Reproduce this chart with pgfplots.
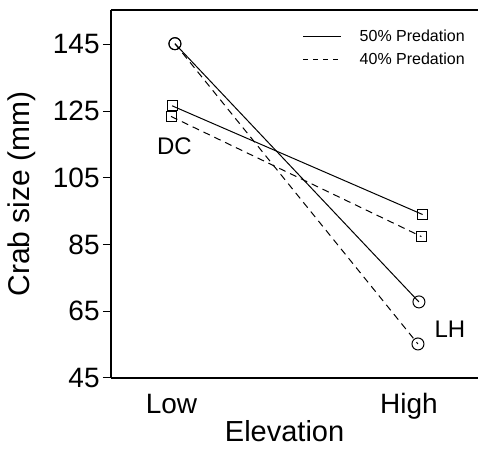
\documentclass[border=0pt]{standalone}
\usepackage{fontspec}
\setmainfont{Liberation Sans}
\usepackage{pgfplots}
\pgfplotsset{compat=1.18}

\begin{document}
\begin{tikzpicture}
\begin{axis}[
  scale only axis,
  width=183.5pt,
  height=184pt,
  xmin=-0.262, xmax=1.242,
  ymin=45, ymax=155.3,
  axis x line*=box,
  axis y line*=left,
  axis line style={black, line width=0.6pt},
  xtick={-0.014,0.959},
  xticklabels={Low,High},
  xtick style={draw=none},
  ytick={45,65,85,105,125,145},
  tick align=outside,
  major tick length=4pt,
  ytick style={black, line width=0.5pt},
  /pgf/number format/assume math mode=true,
  yticklabel style={font=\fontsize{14}{16}\selectfont, anchor=east, inner sep=0pt, xshift=-1.5pt},
  xticklabel style={font=\fontsize{14}{16}\selectfont, anchor=base, inner sep=0pt, yshift=-14pt},
  xlabel={Elevation},
  xlabel style={font=\fontsize{14.5}{16}\selectfont, at={(axis description cs:0.473,0)}, anchor=base, inner sep=0pt, yshift=-32pt},
  ylabel={Crab size (mm)},
  ylabel style={font=\fontsize{15}{17}\selectfont, at={(axis description cs:-0.2425,0.5)}, anchor=center, inner sep=0pt},
  legend style={at={(axis description cs:0.505,0.96)}, anchor=north west, draw=none, fill=none,
    font=\fontsize{8}{9}\selectfont, row sep=4pt,
    nodes={inner sep=0pt, text height=6pt, text depth=1.5pt}},
  legend cell align=left,
  /tikz/every odd column/.append style={column sep=9pt},
  legend image code/.code={\draw[#1] (0pt,0pt) -- (19pt,0pt);},
  clip=false,
]
% 50% predation, LH (circles)
\addplot[black, line width=0.5pt, mark=o, mark size=3pt, mark options={solid, fill=white}, forget plot]
  coordinates {(0,145.2) (1.0,67.8)};
% 40% predation, LH (circles)
\addplot[black, line width=0.5pt, dash pattern=on 3.5pt off 2.5pt, mark=o, mark size=3pt, mark options={solid, fill=white}, forget plot]
  coordinates {(0,145.2) (0.996,55.2)};
% 50% predation, DC (squares)
\addplot[black, line width=0.5pt, mark=square, mark size=2.5pt, mark options={solid, fill=white}, forget plot]
  coordinates {(-0.012,126.6) (1.015,94.0)};
% 40% predation, DC (squares)
\addplot[black, line width=0.5pt, dash pattern=on 3.5pt off 2.5pt, mark=square, mark size=2.5pt, mark options={solid, fill=white}, forget plot]
  coordinates {(-0.016,123.4) (1.01,87.4)};
\addlegendimage{black, line width=0.5pt}
\addlegendentry{50\% Predation}
\addlegendimage{black, line width=0.5pt, dash pattern=on 2.5pt off 2.5pt}
\addlegendentry{40\% Predation}
\node[font=\fontsize{12}{14}\selectfont] at (axis cs:-0.002,114.4) {DC};
\node[font=\fontsize{12}{14}\selectfont] at (axis cs:1.127,59.6) {LH};
\coordinate (bl) at (rel axis cs:0,0);
\coordinate (tr) at (rel axis cs:1,1);
\end{axis}
\pgfresetboundingbox
\path (bl) ++(-55.5pt,-35.5pt) coordinate (a);
\path (tr) ++(0pt,5pt) coordinate (b);
\useasboundingbox (a) rectangle (b);
\end{tikzpicture}
\end{document}
